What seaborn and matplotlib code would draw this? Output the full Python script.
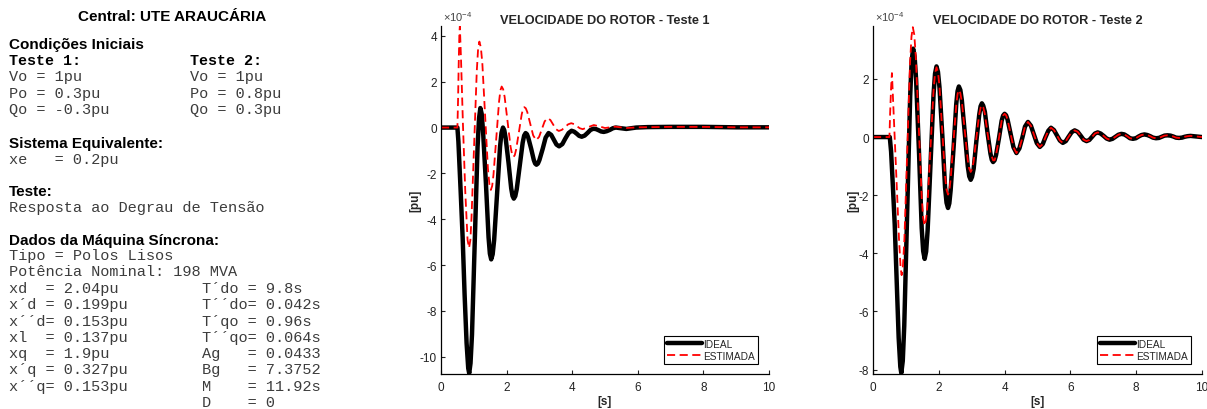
import matplotlib
matplotlib.use('Agg')
import matplotlib.pyplot as plt
import seaborn as sns

# ---------------- data (values in units of 1e-4 pu) ----------------
ideal_1 = [(0, 0), (0.5, 0), (0.53, -0.6), (0.6, -2.8), (0.66, -4.8), (0.72, -7.3), (0.78, -9.4),
           (0.83, -10.5), (0.86, -10.72), (0.90, -10.28), (0.945, -9.03), (1.03, -4.94), (1.115, -0.84),
           (1.16, 0.41), (1.20, 0.85), (1.24, 0.60),
           (1.28, -0.11), (1.37, -2.45), (1.45, -4.79), (1.49, -5.50), (1.53, -5.75), (1.575, -5.53),
           (1.62, -4.91), (1.71, -2.88),
           (1.80, -0.84), (1.845, -0.22), (1.89, 0.0), (1.93, -0.12), (1.97, -0.45), (2.06, -1.55),
           (2.14, -2.65), (2.18, -2.98), (2.22, -3.1), (2.265, -2.99),
           (2.31, -2.68), (2.40, -1.67), (2.49, -0.66), (2.535, -0.35), (2.58, -0.24), (2.62, -0.29),
           (2.66, -0.44), (2.75, -0.93),
           (2.83, -1.42), (2.87, -1.57), (2.91, -1.62), (2.955, -1.57), (3.00, -1.42), (3.10, -0.93),
           (3.19, -0.44), (3.28, -0.24),
           (3.36, -0.32), (3.44, -0.53), (3.52, -0.74), (3.60, -0.82), (3.70, -0.72), (3.79, -0.48),
           (3.89, -0.24), (3.98, -0.14), (4.06, -0.18), (4.14, -0.27), (4.21, -0.36), (4.29, -0.40),
           (4.38, -0.35), (4.47, -0.23), (4.56, -0.10), (4.65, -0.05), (4.73, -0.07), (4.81, -0.12),
           (4.88, -0.17), (4.96, -0.19), (5.05, -0.16), (5.15, -0.10), (5.24, -0.03), (5.33, 0.0),
           (5.49, -0.03), (5.65, -0.06), (5.95, 0.0), (6.3, 0.02), (7.0, 0.03), (8.0, 0.03),
           (9.0, 0.01), (10.0, 0.01)]

estimada_1 = [(0, 0), (0.5, 0), (0.52, 1.2), (0.54, 2.8), (0.56, 4.1), (0.575, 4.43), (0.61, 3.0),
              (0.67, 0.1), (0.74, -2.8), (0.81, -4.9), (0.855, -5.25), (0.895, -4.91), (0.93, -3.94),
              (1.01, -0.75), (1.09, 2.44), (1.13, 3.41), (1.17, 3.75), (1.215, 3.50), (1.26, 2.81),
              (1.345, 0.52), (1.43, -1.78), (1.475, -2.47), (1.52, -2.72), (1.56, -2.55),
              (1.60, -2.06), (1.685, -0.47), (1.77, 1.13), (1.81, 1.62), (1.85, 1.79), (1.895, 1.67),
              (1.94, 1.34), (2.03, 0.26), (2.12, -0.83), (2.165, -1.16), (2.21, -1.28), (2.25, -1.20),
              (2.29, -0.96), (2.375, -0.20), (2.46, 0.57), (2.50, 0.81), (2.54, 0.89), (2.585, 0.84),
              (2.63, 0.68), (2.72, 0.17), (2.81, -0.34), (2.90, -0.55), (2.99, -0.41), (3.075, -0.07),
              (3.16, 0.27), (3.25, 0.41), (3.335, 0.33), (3.42, 0.13), (3.505, -0.07), (3.59, -0.15),
              (3.685, -0.10), (3.78, 0.02), (3.875, 0.14), (3.97, 0.19), (4.06, 0.15), (4.145, 0.06),
              (4.23, -0.03), (4.32, -0.07), (4.49, 0.02), (4.66, 0.11), (4.83, 0.05), (5.0, -0.02),
              (5.3, 0.04), (5.65, -0.02), (6.0, 0.01), (7.0, 0.03), (8.0, 0.03), (9.0, 0.01), (10.0, 0.01)]

ideal_2 = [(0, 0), (0.51, 0), (0.55, -0.5), (0.60, -1.6), (0.66, -3.0), (0.72, -4.9), (0.78, -6.9),
           (0.83, -7.9), (0.86, -8.12), (0.905, -7.70), (0.95, -6.49), (1.04, -2.54), (1.13, 1.41),
           (1.175, 2.62), (1.22, 3.04), (1.265, 2.77),
           (1.31, 1.98), (1.40, -0.58), (1.48, -3.13), (1.525, -3.92), (1.57, -4.19), (1.615, -3.94),
           (1.66, -3.22), (1.75, -0.88),
           (1.84, 1.46), (1.885, 2.18), (1.93, 2.43), (1.975, 2.24), (2.02, 1.72), (2.11, 0.0),
           (2.19, -1.73), (2.235, -2.26), (2.28, -2.44), (2.32, -2.28),
           (2.36, -1.83), (2.45, -0.35), (2.53, 1.13), (2.57, 1.58), (2.61, 1.74), (2.655, 1.62),
           (2.70, 1.27), (2.79, 0.13),
           (2.88, -1.0), (2.925, -1.35), (2.97, -1.47), (3.01, -1.37), (3.06, -1.09), (3.14, -0.16),
           (3.23, 0.78), (3.27, 1.06), (3.31, 1.16), (3.35, 1.08),
           (3.40, 0.87), (3.48, 0.15), (3.57, -0.57), (3.61, -0.78), (3.65, -0.86), (3.695, -0.80),
           (3.74, -0.62), (3.83, -0.03),
           (3.91, 0.56), (3.955, 0.74), (4.00, 0.80), (4.045, 0.75), (4.09, 0.60), (4.18, 0.13),
           (4.27, -0.35), (4.36, -0.55),
           (4.45, -0.39), (4.54, -0.02), (4.62, 0.36), (4.71, 0.52), (4.80, 0.39), (4.89, 0.09),
           (4.98, -0.21), (5.07, -0.34), (5.16, -0.24), (5.24, -0.01), (5.33, 0.22), (5.41, 0.32),
           (5.50, 0.24), (5.59, 0.06), (5.68, -0.12), (5.77, -0.20), (5.86, -0.14), (5.95, 0.02),
           (6.04, 0.17), (6.13, 0.23), (6.22, 0.18), (6.31, 0.05), (6.40, -0.09), (6.49, -0.14),
           (6.575, -0.10), (6.66, 0.01), (6.745, 0.12), (6.83, 0.16), (6.92, 0.12), (7.01, 0.04),
           (7.10, -0.05), (7.19, -0.09), (7.28, -0.06), (7.37, 0.01), (7.46, 0.08), (7.55, 0.11),
           (7.64, 0.09), (7.725, 0.03), (7.81, -0.04), (7.90, -0.06), (7.99, -0.04), (8.075, 0.02),
           (8.16, 0.07), (8.25, 0.09), (8.34, 0.07), (8.425, 0.03), (8.51, -0.02), (8.60, -0.04),
           (8.69, -0.03), (8.775, 0.01), (8.86, 0.05), (8.95, 0.06), (9.04, 0.05), (9.125, 0.02),
           (9.21, -0.02), (9.30, -0.03), (9.39, -0.02), (9.475, 0.01), (9.56, 0.03), (9.65, 0.04),
           (9.74, 0.03), (9.825, 0.02), (9.91, 0.01), (10.0, 0.0)]

estimada_2_inicio = [(0, 0), (0.5, 0), (0.52, 0.8), (0.55, 1.7), (0.575, 2.2), (0.61, 1.3), (0.67, -0.3),
                     (0.73, -1.9), (0.79, -3.5), (0.84, -4.5), (0.87, -4.75), (0.91, -4.43), (0.955, -3.5),
                     (1.04, -0.49), (1.125, 2.53), (1.17, 3.46), (1.21, 3.78), (1.255, 3.52), (1.30, 2.78),
                     (1.39, 0.37), (1.48, -2.05), (1.525, -2.79), (1.57, -3.05), (1.615, -2.84),
                     (1.66, -2.25), (1.75, -0.33), (1.84, 1.60), (1.885, 2.19), (1.93, 2.40), (1.975, 2.23),
                     (2.02, 1.76), (2.105, 0.21), (2.19, -1.34), (2.235, -1.81), (2.28, -1.98), (2.32, -1.84),
                     (2.36, -1.45), (2.445, -0.18), (2.53, 1.09), (2.57, 1.48), (2.61, 1.62), (2.655, 1.51),
                     (2.70, 1.21), (2.79, 0.21), (2.88, -0.79), (2.925, -1.09), (2.97, -1.20), (3.01, -1.11),
                     (3.055, -0.86), (3.14, -0.05), (3.225, 0.76), (3.27, 1.01), (3.31, 1.10), (3.35, 1.03),
                     (3.395, 0.82), (3.48, 0.15), (3.565, -0.52), (3.65, -0.80)]
# after ~3.7 s the estimated curve lies on top of the ideal one
estimada_2 = estimada_2_inicio + [p for p in ideal_2 if p[0] > 3.65]

ylim_1 = (-10.75, 4.43)
ylim_2 = (-8.15, 3.82)
yticks_1 = [-10, -8, -6, -4, -2, 0, 2, 4]
yticks_2 = [-8, -6, -4, -2, 0, 2]
xticks = [0, 2, 4, 6, 8, 10]
titulos = ['VELOCIDADE DO ROTOR - Teste 1', 'VELOCIDADE DO ROTOR - Teste 2']
legendas = ['IDEAL', 'ESTIMADA']

# ---------------- figure ----------------
sns.set_style('ticks')
plt.rcParams['font.family'] = ['Liberation Sans', 'DejaVu Sans']
plt.rcParams['mathtext.fontset'] = 'custom'
plt.rcParams['mathtext.rm'] = 'Liberation Sans'
plt.rcParams['mathtext.it'] = 'Liberation Sans'
plt.rcParams['axes.unicode_minus'] = False

W, H = 1207, 410
fig = plt.figure(figsize=(W / 100, H / 100), dpi=100)

MONO = ['Liberation Mono', 'DejaVu Sans Mono']


def ftxt(x, y, s, mono=True, bold=False, size=None, ha='left', color=None):
    fam = MONO if mono else ['Liberation Sans', 'DejaVu Sans']
    if size is None:
        size = 11 if mono else 11
    if color is None:
        color = '#3c3c3c' if (mono and not bold) else 'black'
    fig.text(x / W, 1 - y / H, s, family=fam, fontsize=size, ha=ha, va='center',
             fontweight='bold' if bold else 'normal', color=color)


ftxt(172, 17, 'Central: UTE ARAUCÁRIA', mono=False, bold=True, ha='center')
ftxt(9, 45, 'Condições Iniciais', mono=False, bold=True)
ftxt(9, 61, 'Teste 1:', bold=True, size=10.8)
ftxt(190, 61, 'Teste 2:', bold=True, size=10.8)
ftxt(9, 77, 'Vo = 1pu');     ftxt(190, 77, 'Vo = 1pu')
ftxt(9, 94, 'Po = 0.3pu');   ftxt(190, 94, 'Po = 0.8pu')
ftxt(9, 110, 'Qo = -0.3pu'); ftxt(190, 110, 'Qo = 0.3pu')
ftxt(9, 144, 'Sistema Equivalente:', mono=False, bold=True)
ftxt(9, 160, 'xe   = 0.2pu')
ftxt(9, 192, 'Teste:', mono=False, bold=True)
ftxt(9, 208, 'Resposta ao Degrau de Tensão')
ftxt(9, 241, 'Dados da Máquina Síncrona:', mono=False, bold=True)
ftxt(9, 256, 'Tipo = Polos Lisos')
ftxt(9, 272, 'Potência Nominal: 198 MVA')
col1 = ['xd  = 2.04pu', 'x´d = 0.199pu', 'x´´d= 0.153pu', 'xl  = 0.137pu', 'xq  = 1.9pu',
        'x´q = 0.327pu', 'x´´q= 0.153pu', '']
col2 = ['T´do = 9.8s', 'T´´do= 0.042s', 'T´qo = 0.96s', 'T´´qo= 0.064s', 'Ag   = 0.0433',
        'Bg   = 7.3752', 'M    = 11.92s', 'D    = 0']
for i, (a, b) in enumerate(zip(col1, col2)):
    y = 289 + i * 16.3
    if a:
        ftxt(9, y, a)
    ftxt(202, y, b)


def painel(rect, ideal, est, ylim, yticks, titulo):
    ax = fig.add_axes(rect)
    ti, vi = zip(*ideal)
    te, ve = zip(*est)
    sns.lineplot(x=list(ti), y=list(vi), ax=ax, color='black', linewidth=3.2,
                 label=legendas[0], estimator=None, sort=False)
    ax.lines[-1].set_solid_joinstyle('round')
    sns.lineplot(x=list(te), y=list(ve), ax=ax, color='red', linewidth=1.3,
                 linestyle='--', label=legendas[1], estimator=None, sort=False)
    ax.lines[-1].set_dashes([4.5, 2.5])
    ax.lines[-1].set_dash_joinstyle('round')
    ax.set_xlim(0, 10)
    ax.set_ylim(*ylim)
    ax.set_xticks(xticks)
    ax.set_yticks(yticks)
    ax.tick_params(direction='in', length=3, width=0.8, labelsize=8.5, colors='#222222')
    ax.tick_params(axis='x', pad=5)
    ax.tick_params(axis='y', pad=3)
    for s in ['left', 'bottom']:
        ax.spines[s].set_linewidth(0.9)
        ax.spines[s].set_color('black')
    sns.despine(ax=ax)
    ax.set_title(titulo, fontsize=9.2, fontweight='bold', pad=2)
    ax.set_xlabel('[s]', fontsize=8.5, fontweight='bold', labelpad=1.5)
    ax.set_ylabel('[pu]', fontsize=8.5, fontweight='bold', labelpad=-1)
    ax.text(0.005, 1.008, r'$\times 10^{-4}$', transform=ax.transAxes, fontsize=8,
            color='#444444', ha='left', va='bottom')
    leg = ax.legend(loc='lower right', bbox_to_anchor=(0.966, 0.029), borderaxespad=0,
                    fontsize=7.3, frameon=True, fancybox=False, edgecolor='black',
                    handlelength=3.4, handletextpad=0.15, borderpad=0.3, labelspacing=0.2)
    leg.get_frame().set_linewidth(0.8)
    leg.get_frame().set_alpha(1)
    return ax


painel([441 / W, 35 / H, 328 / W, 348 / H], ideal_1, estimada_1, ylim_1, yticks_1, titulos[0])
painel([873 / W, 35 / H, 329 / W, 348 / H], ideal_2, estimada_2, ylim_2, yticks_2, titulos[1])

fig.savefig('out.png', dpi=100)
